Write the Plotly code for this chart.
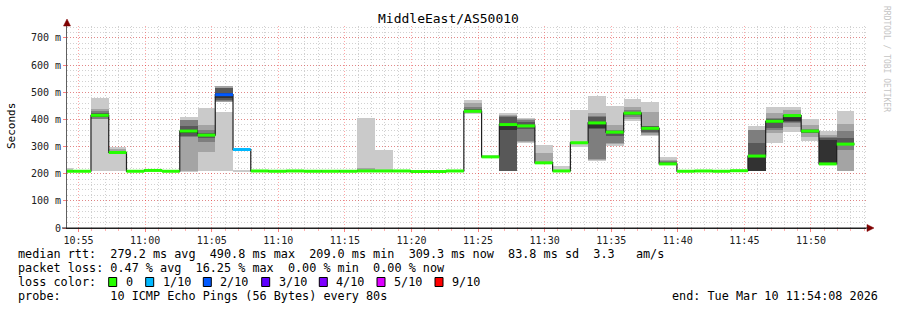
import datetime as dt
import plotly.graph_objects as go

# ---------------- data ----------------
step_seconds = 80
first_step = dt.datetime(2026, 3, 10, 10, 53, 16)
range_start = dt.datetime(2026, 3, 10, 10, 54, 8)
range_end = dt.datetime(2026, 3, 10, 11, 54, 8)

# sorted ping rtts (ms) per 80 s step; band i spans ping_i .. ping_(11-i)
ping1 = [209,208,209,209,208,210,208,208,211,211,208,209,208,209,208,208,208,209,209,209,207,207,209,420,258,209,314,238,209,297,248,302,393,339,234,208,209,208,210,209,314,355,322,234,209]
ping2 = [209,208,400,272,208,210,208,209,280,463,None,209,208,209,208,208,208,210,209,209,207,207,209,424,259,209,318,238,209,312,252,308,402,342,235,208,209,208,210,209,349,373,334,235,209]
ping3 = [209,209,403,274,209,211,209,334,317,466,None,209,209,209,209,209,209,210,209,209,208,208,209,427,260,209,320,239,209,312,253,312,410,349,236,209,209,209,210,209,361,386,349,235,287]
ping4 = [209,209,408,276,209,211,209,340,330,472,None,210,209,210,209,209,209,210,210,210,208,208,210,428,261,209,365,239,209,313,365,340,418,355,236,209,210,209,211,209,370,390,350,236,305]
ping5 = [209,209,412,277,209,212,209,350,338,478,None,210,209,210,209,209,209,210,210,210,208,208,210,429,262,361,372,240,210,313,368,350,420,360,237,209,210,209,211,209,385,395,352,236,307]
ping6 = [210,209,418,280,209,212,209,362,346,497,None,210,209,210,209,209,209,210,210,210,208,208,210,432,263,386,380,241,210,315,390,356,426,370,238,209,210,209,211,269,398,410,360,325,312]
ping7 = [210,210,425,283,210,213,210,377,350,514,None,210,210,210,210,210,210,211,210,210,209,209,210,437,264,409,392,242,211,315,410,358,428,374,240,210,210,210,211,312,402,418,362,330,331]
ping8 = [211,210,430,285,210,213,210,397,361,517,None,211,210,211,210,210,210,211,211,211,209,209,211,447,265,414,398,243,211,316,412,361,435,376,245,210,211,210,212,360,404,419,365,335,359]
ping9 = [212,210,440,290,211,214,211,398,379,523,None,211,210,211,210,210,210,220,211,211,209,209,211,459,266,418,402,275,212,316,422,380,446,426,252,210,211,210,212,362,422,435,379,343,384]
ping10 = [221,211,479,297,211,214,211,409,441,427,214,211,211,211,211,211,211,405,288,211,210,210,211,471,268,422,407,306,228,435,486,449,474,463,262,211,211,211,212,376,446,446,400,358,431]

median = [209,209,415,278,209,212,209,357,342,491,289,210,209,210,209,209,209,210,210,210,208,208,210,430,262,381,376,240,210,314,387,353,423,367,236,209,210,209,211,265,393,414,357,236,309]
loss = [0,0,0,0,0,0,0,0,0,2,1,0,0,0,0,0,0,0,0,0,0,0,0,0,0,0,0,0,0,0,0,0,0,0,0,0,0,0,0,0,0,0,0,0,0]

y_tick_vals = [0, 100, 200, 300, 400, 500, 600, 700]
y_tick_text = ["0", "100 m", "200 m", "300 m", "400 m", "500 m", "600 m", "700 m"]

loss_labels = ["0", "1/10", "2/10", "3/10", "4/10", "5/10", "9/10"]
loss_colors = ["#26ff00", "#00b8ff", "#0059ff", "#5e00ff", "#7e00ff", "#dd00ff", "#ff0000"]

title_text = "MiddleEast/AS50010"
legend_lines = [
    "median rtt:  279.2 ms avg  490.8 ms max  209.0 ms min  309.3 ms now  83.8 ms sd  3.3   am/s",
    "packet loss: 0.47 % avg  16.25 % max  0.00 % min  0.00 % now",
    "loss color:",
    "probe:       10 ICMP Echo Pings (56 Bytes) every 80s",
]
end_text = "end: Tue Mar 10 11:54:08 2026"
side_text = "RRDTOOL / TOBI OETIKER"

# ---------------- helpers ----------------
n = len(median)
step = dt.timedelta(seconds=step_seconds)
starts = [first_step + i * step for i in range(n)]
centers = [s + step / 2 for s in starts]
ends = [s + step for s in starts]

pings = [ping1, ping2, ping3, ping4, ping5, ping6, ping7, ping8, ping9, ping10]
smoke_colors = ["#cacaca", "#a4a4a4", "#7e7e7e", "#585858", "#323232"]

MONO = "DejaVu Sans Mono"
LEG_SIZE = 11.8

# plot area in pixels
L, R, T, B = 67, 866, 26, 228
def px(x):
    return (x - L) / (R - L)
def py(y):
    return (B - y) / (B - T)

def nb(s):
    return s.replace(" ", "\u00a0")

def loss_color(l):
    if l >= 9:
        return loss_colors[6]
    if l >= 5:
        return loss_colors[5]
    return loss_colors[l]

fig = go.Figure()

# smoke bands
for i in range(5):
    lo_arr = pings[i]
    hi_arr = pings[9 - i]
    bases, heights = [], []
    for lo, hi in zip(lo_arr, hi_arr):
        if lo is None or hi is None:
            bases.append(None)
            heights.append(None)
        else:
            bases.append(min(lo, hi))
            heights.append(abs(hi - lo))
    fig.add_trace(go.Bar(
        x=centers, y=heights, base=bases, width=step_seconds * 1000,
        marker=dict(color=smoke_colors[i], line=dict(width=0)),
        hoverinfo="skip", showlegend=False,
    ))

# black median step line
fig.add_trace(go.Scatter(
    x=starts + [ends[-1]], y=median + [median[-1]],
    mode="lines", line=dict(color="#202020", width=1.2, shape="hv"),
    hoverinfo="skip", showlegend=False,
))

# coloured median segments (by loss)
seg = {}
for s, e, m, l in zip(starts, ends, median, loss):
    c = loss_color(l)
    xs, ys = seg.setdefault(c, ([], []))
    xs += [s, e, None]
    ys += [m, m, None]
for c, (xs, ys) in seg.items():
    fig.add_trace(go.Scatter(
        x=xs, y=ys, mode="lines", line=dict(color=c, width=3),
        hoverinfo="skip", showlegend=False,
    ))

major_grid = "rgba(255,0,0,0.35)"
minor_grid = "rgba(140,140,140,0.4)"

fig.update_layout(
    width=897, height=310,
    margin=dict(l=L, r=897 - R, t=T, b=310 - B, pad=0),
    paper_bgcolor="white", plot_bgcolor="white",
    barmode="overlay", bargap=0, showlegend=False,
    font=dict(family=MONO, size=10, color="#000000"),
    xaxis=dict(
        type="date", range=[range_start, range_end],
        tickformat="%H:%M", dtick=300000, tick0="2026-03-10 10:55:00",
        showgrid=True, gridcolor=major_grid, griddash="1px,2px", gridwidth=1,
        minor=dict(dtick=60000, showgrid=True, gridcolor=minor_grid, griddash="1px,2px",
                   ticks="outside", ticklen=2, tickcolor="rgba(255,0,0,0.3)"),
        showline=True, linecolor="#202020", linewidth=1,
        ticks="outside", ticklen=3, tickcolor="rgba(255,0,0,0.5)",
        tickfont=dict(family=MONO, size=10, color="#202020"),
        zeroline=False, fixedrange=True,
    ),
    yaxis=dict(
        range=[0, 744], tickvals=y_tick_vals, ticktext=y_tick_text,
        showgrid=True, gridcolor=major_grid, griddash="1px,2px", gridwidth=1,
        minor=dict(dtick=20, showgrid=True, gridcolor=minor_grid, griddash="1px,2px"),
        showline=True, linecolor="#606060", linewidth=1,
        ticks="outside", ticklen=3, tickcolor="rgba(255,0,0,0.5)",
        tickfont=dict(family=MONO, size=10, color="#202020"),
        zeroline=False, fixedrange=True,
    ),
)

ann = []
# title
ann.append(dict(text=title_text, x=px(448), y=py(19), xref="paper", yref="paper",
                xanchor="center", yanchor="middle", showarrow=False,
                font=dict(family=MONO, size=13, color="#000000")))
# y axis label
ann.append(dict(text="Seconds", x=px(11), y=py(126), xref="paper", yref="paper",
                xanchor="center", yanchor="middle", showarrow=False, textangle=-90,
                font=dict(family=MONO, size=11, color="#000000")))
# side text
ann.append(dict(text=nb(side_text), x=px(887), y=py(59), xref="paper", yref="paper",
                xanchor="center", yanchor="middle", showarrow=False, textangle=90,
                font=dict(family=MONO, size=8, color="#c4c4c4")))
# legend lines
for line, yc in zip(legend_lines, [254, 268, 282, 296]):
    ann.append(dict(text=nb(line), x=px(16), y=py(yc), xref="paper", yref="paper",
                    xanchor="left", yanchor="middle", showarrow=False,
                    font=dict(family=MONO, size=LEG_SIZE, color="#000000")))
ann.append(dict(text=nb(end_text), x=px(880), y=py(296), xref="paper", yref="paper",
                xanchor="right", yanchor="middle", showarrow=False,
                font=dict(family=MONO, size=LEG_SIZE, color="#000000")))

shapes = []
box_x = [108.7, 145.7, 203.3, 261.7, 319.3, 377.0, 435.0]
for bx, lab, col in zip(box_x, loss_labels, loss_colors):
    shapes.append(dict(type="rect", xref="paper", yref="paper",
                       x0=px(bx), x1=px(bx + 8), y0=py(286.5), y1=py(277.5),
                       fillcolor=col, line=dict(color="#000000", width=1)))
    ann.append(dict(text=lab, x=px(bx + 15), y=py(282), xref="paper", yref="paper",
                    xanchor="left", yanchor="middle", showarrow=False,
                    font=dict(family=MONO, size=LEG_SIZE, color="#000000")))

# axis arrows
arrow_col = "#7f0000"
shapes.append(dict(type="path", xref="paper", yref="paper",
                   path=f"M {px(867)},{py(224.5)} L {px(874)},{py(228)} L {px(867)},{py(231.5)} Z",
                   fillcolor=arrow_col, line=dict(color=arrow_col, width=0.5)))
shapes.append(dict(type="path", xref="paper", yref="paper",
                   path=f"M {px(63.5)},{py(26)} L {px(67)},{py(19)} L {px(70.5)},{py(26)} Z",
                   fillcolor=arrow_col, line=dict(color=arrow_col, width=0.5)))
# extend x axis line to arrow
shapes.append(dict(type="line", xref="paper", yref="paper",
                   x0=px(62), x1=px(868), y0=py(228), y1=py(228),
                   line=dict(color="#202020", width=1)))

fig.update_layout(annotations=ann, shapes=shapes)
fig.write_html("out.html")
